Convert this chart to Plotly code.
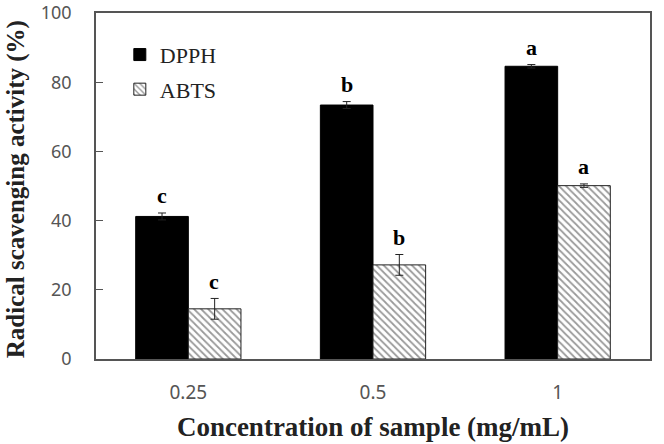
import plotly.graph_objects as go

categories = ["0.25", "0.5", "1"]
dpph = [41.2, 73.4, 84.6]
dpph_err = [1.0, 1.0, 0.5]
abts = [14.5, 27.2, 50.1]
abts_err = [3.0, 3.0, 0.5]
dpph_letters = ["c", "b", "a"]
abts_letters = ["c", "b", "a"]

serif = "Liberation Serif, Times New Roman, serif"
sans = "Noto Sans, Open Sans, sans-serif"

fig = go.Figure()
fig.add_trace(go.Bar(
    x=categories, y=dpph, name="DPPH", legendgroup="g1",
    marker=dict(color="black", line=dict(color="black", width=1)),
    error_y=dict(type="data", array=dpph_err, color="#222", thickness=1, width=4),
))
fig.add_trace(go.Bar(
    x=categories, y=abts, name="ABTS", legendgroup="g2",
    marker=dict(color="white", line=dict(color="#222", width=1),
                pattern=dict(shape="\\", fgcolor="#333", bgcolor="white", size=5, solidity=0.35)),
    error_y=dict(type="data", array=abts_err, color="#222", thickness=1, width=4),
))

for i, c in enumerate(categories):
    fig.add_annotation(x=i, y=dpph[i] + dpph_err[i], text="<b>" + dpph_letters[i] + "</b>", showarrow=False,
                       xshift=-26, yshift=17, font=dict(family=serif, size=22, color="black"))
    fig.add_annotation(x=i, y=abts[i] + abts_err[i], text="<b>" + abts_letters[i] + "</b>", showarrow=False,
                       xshift=26, yshift=17, font=dict(family=serif, size=22, color="black"))

fig.add_annotation(xref="paper", yref="paper", x=-0.143, y=0.49, xanchor="center", yanchor="middle",
                   text="<b>Radical scavenging activity (%)</b>", textangle=-90, showarrow=False,
                   font=dict(family=serif, size=25, color="#222"))

fig.update_layout(
    width=664, height=444,
    margin=dict(l=96, r=14, t=13, b=85),
    paper_bgcolor="white", plot_bgcolor="white",
    barmode="group", bargap=0.43, bargroupgap=0,
    showlegend=True,
    legend=dict(x=0.043, y=0.94, xanchor="left", yanchor="top",
                font=dict(family=serif, size=22, color="#222"),
                bgcolor="rgba(0,0,0,0)", itemwidth=30, tracegroupgap=3,
                traceorder="grouped"),
    xaxis=dict(
        type="category", automargin=False,
        showline=True, linecolor="#555", linewidth=1.5, mirror=True,
        ticks="", tickfont=dict(family=sans, size=19, color="#555"),
        ticklabelstandoff=15,
        title=dict(text="<b>Concentration of sample (mg/mL)</b>", font=dict(family=serif, size=27, color="#222"),
                   standoff=14),
    ),
    yaxis=dict(
        range=[0, 100], dtick=20, showgrid=False, zeroline=False, automargin=False,
        showline=True, linecolor="#555", linewidth=1.5, mirror=True,
        ticks="inside", ticklen=7, tickcolor="#555",
        tickfont=dict(family=sans, size=18, color="#555"),
        ticklabelstandoff=19, ticklabeloverflow="allow",
    ),
)

fig.write_html("out.html")
